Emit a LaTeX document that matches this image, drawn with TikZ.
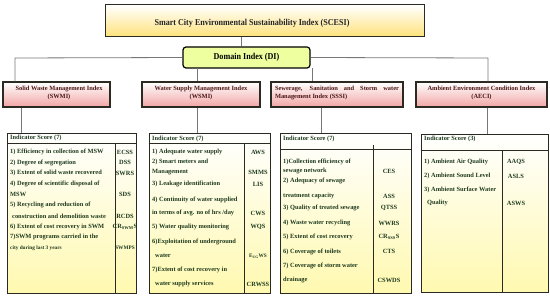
\documentclass[tikz,border=0pt]{standalone}
\usepackage{fontspec}
\setmainfont{Liberation Serif}
\newfontfamily\titlefont{Liberation Serif}[FakeStretch=0.9]
\definecolor{itgreen}{HTML}{1E3A1E}
\definecolor{domred}{HTML}{4A1515}
\definecolor{pinkb}{HTML}{F2A5A5}
\definecolor{yelb}{HTML}{FFF9B0}
\definecolor{goldb}{HTML}{FFE27A}
\definecolor{dilime}{HTML}{EDFF9E}
\definecolor{conngray}{HTML}{777777}
\definecolor{boxdark}{HTML}{2A2A22}
\begin{document}
\begin{tikzpicture}[x=1pt,y=-1pt,
  topbox/.style={draw=boxdark, line width=1pt, top color=white, bottom color=goldb, inner sep=0},
  dibox/.style={draw=black, line width=1.2pt, fill=dilime, rounded corners=3pt, inner sep=0},
  dombox/.style={draw=boxdark, line width=1.3pt, top color=white, bottom color=pinkb, inner sep=0},
  indbox/.style={draw=boxdark, line width=0.9pt, top color=white, bottom color=yelb, inner sep=0, minimum height=160pt},
  conn/.style={draw=conngray, line width=0.8pt},
  inner/.style={draw=boxdark, line width=0.9pt},
  itxt/.style={font=\fontsize{6.4}{7}\selectfont\bfseries, text=itgreen, inner sep=0, anchor=west},
  ctxt/.style={font=\fontsize{6.4}{7}\selectfont\bfseries, text=itgreen, inner sep=0, anchor=center},
  dtxt/.style={font=\fontsize{6.4}{7.6}\selectfont\bfseries, text=domred, inner sep=0, align=center}
]
\useasboundingbox (0,0) rectangle (550,299);

% top level
\node[topbox, minimum width=319pt, minimum height=32pt] (scesi) at (264.5,21) {};
\node[font=\titlefont\fontsize{9}{10}\selectfont\bfseries, text=black!85, inner sep=0] (scesit) at (252,23) {Smart City Environmental Sustainability Index (SCESI)};
\node[dibox, minimum width=127pt, minimum height=21pt, font=\titlefont\fontsize{9}{10}\selectfont\bfseries] (di) at (246.5,57.5) {Domain Index (DI)};

% domain boxes
\node[dombox, minimum width=107pt, minimum height=25pt] (swmi) at (56.5,94.5) {};
\node[dombox, minimum width=118pt, minimum height=25pt] (wsmi) at (201,94.5) {};
\node[dombox, minimum width=132pt, minimum height=25pt] (sssi) at (337,94.5) {};
\node[dombox, minimum width=131pt, minimum height=25pt] (aeci) at (481.5,94.5) {};
\node[dtxt] (swmit) at (59,93) {Solid Waste Management Index\\(SWMI)};
\node[dtxt] (wsmit) at (201,93) {Water Supply Management Index\\(WSMI)};
\node[dtxt, align=left] (sssit) at (337,93) {\makebox[124pt][s]{Sewerage, Sanitation and Storm water}\\Management Index (SSSI)};
\node[dtxt] (aecit) at (481.5,93) {Ambient Environment Condition Index\\(AECI)};

% indicator boxes
\node[indbox, minimum width=129pt] (ind1) at (71.5,213) {};
\node[indbox, minimum width=121pt] (ind2) at (209.5,213) {};
\node[indbox, minimum width=131pt] (ind3) at (345.5,213) {};
\node[indbox, minimum width=127pt, minimum height=158pt] (ind4) at (484.5,213) {};

% connectors
\coordinate (c0) at (241,37);
\coordinate (j1) at (15,58);
\coordinate (j4) at (488,58);
\coordinate (j2) at (197,68);
\coordinate (j3) at (312,68);
\draw[conn] (scesi.south -| c0) -- (di.north -| c0);
\draw[conn] (di.west) -- (j1) -- (swmi.north -| j1);
\draw[conn] (di.east) -- (j4) -- (aeci.north -| j4);
\draw[conn] (j2) -- (wsmi.north -| j2);
\draw[conn] (j3) -- (sssi.north -| j3);
\coordinate (k1) at (21,0);
\coordinate (k2) at (197,0);
\coordinate (k3) at (321,0);
\coordinate (k4) at (487,0);
\draw[conn] (swmi.south -| k1) -- (ind1.north -| k1);
\draw[conn] (wsmi.south -| k2) -- (ind2.north -| k2);
\draw[conn] (sssi.south -| k3) -- (ind3.north -| k3);
\draw[conn] (aeci.south -| k4) -- (ind4.north -| k4);

% inner lines
\coordinate (h1) at (0,143); \coordinate (v1) at (115,0);
\draw[inner] (ind1.west |- h1) -- (ind1.east |- h1);
\draw[inner] (v1 |- h1) -- (v1 |- ind1.south);
\coordinate (h2) at (0,143); \coordinate (v2) at (244,0);
\draw[inner] (ind2.west |- h2) -- (ind2.east |- h2);
\draw[inner] (v2 |- h2) -- (v2 |- ind2.south);
\coordinate (h3) at (0,149); \coordinate (v3) at (373,0); \coordinate (h3b) at (0,145);
\draw[inner] (ind3.west |- h3) -- (ind3.east |- h3);
\draw[inner] (v3 |- h3b) -- (v3 |- ind3.south);
\coordinate (h4) at (0,150); \coordinate (v4) at (502,0);
\draw[inner] (ind4.west |- h4) -- (ind4.east |- h4);
\draw[inner] (v4 |- h4) -- (v4 |- ind4.south);

% box 1 texts
\node[itxt] (a0) at (10,138) {Indicator Score (7)};
\node[itxt] (a1) at (10,152) {1) Efficiency in collection of MSW};
\node[ctxt] (a1c) at (125,152) {ECSS};
\node[itxt] (a2) at (10,162.5) {2) Degree of segregation};
\node[ctxt] (a2c) at (125,162.5) {DSS};
\node[itxt] (a3) at (10,173) {3) Extent of solid waste recovered};
\node[ctxt] (a3c) at (125,173) {SWRS};
\node[itxt] (a4) at (10,183.5) {4) Degree of scientific disposal of};
\node[itxt] (a4b) at (10,194.5) {MSW};
\node[ctxt] (a4c) at (125,194.5) {SDS};
\node[itxt] (a5) at (10,205) {5) Recycling and reduction of};
\node[itxt] (a5b) at (12,216) {construction and demolition waste};
\node[ctxt] (a5c) at (125,216) {RCDS};
\node[itxt] (a6) at (10,226.5) {6) Extent of cost recovery in SWM};
\node[ctxt] (a6c) at (125,226.5) {CR\textsubscript{SWM}S};
\node[itxt] (a7) at (10,237) {7)SWM programs carried in the};
\node[itxt, font=\fontsize{5.3}{6}\selectfont\bfseries] (a7b) at (10,248) {city during last 3 years};
\node[ctxt, font=\fontsize{5.3}{6}\selectfont\bfseries] (a7c) at (125,248) {SWMPS};

% box 2 texts
\node[itxt] (b0) at (152,139) {Indicator Score (7)};
\node[itxt] (b1) at (152,152) {1) Adequate water supply};
\node[ctxt] (b1c) at (258,152) {AWS};
\node[itxt] (b2) at (152,162) {2) Smart meters and};
\node[itxt] (b2b) at (152,172) {Management};
\node[ctxt] (b2c) at (258,172) {SMMS};
\node[itxt] (b3) at (152,184) {3) Leakage identification};
\node[ctxt] (b3c) at (258,184) {LIS};
\node[itxt] (b4) at (152,200) {4) Continuity of water supplied};
\node[itxt] (b4b) at (152,213) {in terms of avg. no of hrs /day};
\node[ctxt] (b4c) at (258,213) {CWS};
\node[itxt] (b5) at (152,227) {5) Water quality monitoring};
\node[ctxt] (b5c) at (258,227) {WQS};
\node[itxt] (b6) at (152,241.5) {6)Exploitation of underground};
\node[itxt] (b6b) at (155,256) {water};
\node[ctxt, font=\fontsize{5.3}{6}\selectfont\bfseries] (b6c) at (258,256) {E\textsubscript{UG}WS};
\node[itxt] (b7) at (152,270) {7)Extent of cost recovery in};
\node[itxt] (b7b) at (155,284) {water supply services};
\node[ctxt] (b7c) at (258,284) {CRWSS};

% box 3 texts
\node[itxt] (s0) at (283,139) {Indicator Score (7)};
\node[itxt] (s1) at (283,161.5) {1)Collection efficiency of};
\node[itxt] (s1b) at (283,171) {sewage network};
\node[ctxt] (s1c) at (389,171) {CES};
\node[itxt] (s2) at (283,181) {2) Adequacy of sewage};
\node[itxt] (s2b) at (283,196) {treatment capacity};
\node[ctxt] (s2c) at (389,196) {ASS};
\node[itxt] (s3) at (283,208) {3) Quality of treated sewage};
\node[ctxt] (s3c) at (389,208) {QTSS};
\node[itxt] (s4) at (283,223) {4) Waste water recycling};
\node[ctxt] (s4c) at (389,223) {WWRS};
\node[itxt] (s5) at (283,237) {5) Extent of cost recovery};
\node[ctxt] (s5c) at (389,237) {CR\textsubscript{SSS}S};
\node[itxt] (s6) at (283,251.5) {6) Coverage of toilets};
\node[ctxt] (s6c) at (389,251.5) {CTS};
\node[itxt] (s7) at (283,266) {7) Coverage of storm water};
\node[itxt] (s7b) at (283,280) {drainage};
\node[ctxt] (s7c) at (389,280) {CSWDS};

% box 4 texts
\node[itxt] (e0) at (424,139) {Indicator Score (3)};
\node[itxt] (e1) at (424,162) {1) Ambient Air Quality};
\node[ctxt] (e1c) at (516,162) {AAQS};
\node[itxt] (e2) at (424,176) {2) Ambient Sound Level};
\node[ctxt] (e2c) at (516,176) {ASLS};
\node[itxt] (e3) at (424,190) {3) Ambient Surface Water};
\node[itxt] (e3b) at (427,203) {Quality};
\node[ctxt] (e3c) at (516,203) {ASWS};
\end{tikzpicture}
\end{document}
